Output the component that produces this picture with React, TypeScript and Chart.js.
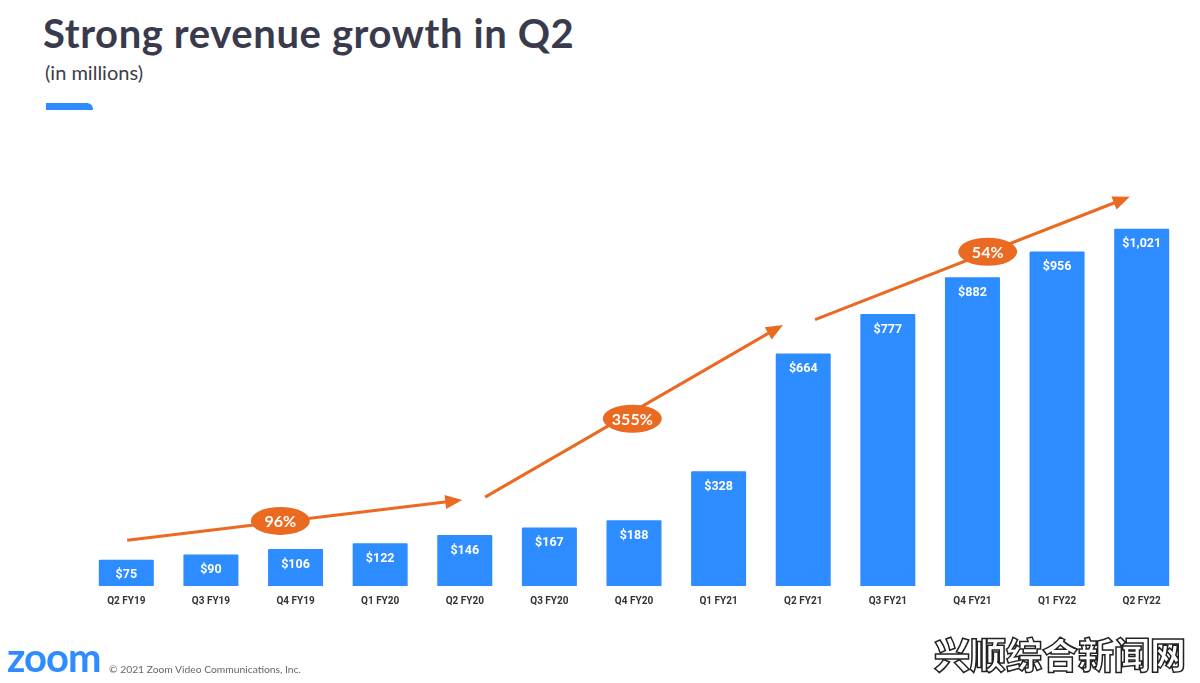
import React, { useEffect, useRef } from "react";
import { Chart, registerables } from "chart.js";

Chart.register(...registerables);

const categories = [
  "Q2 FY19", "Q3 FY19", "Q4 FY19", "Q1 FY20", "Q2 FY20", "Q3 FY20", "Q4 FY20",
  "Q1 FY21", "Q2 FY21", "Q3 FY21", "Q4 FY21", "Q1 FY22", "Q2 FY22",
];
const revenue = [75, 90, 106, 122, 146, 167, 188, 328, 664, 777, 882, 956, 1021];
const valueLabels = ["$75", "$90", "$106", "$122", "$146", "$167", "$188", "$328", "$664", "$777", "$882", "$956", "$1,021"];

// growth arrows in data space
const arrowStartIdx = [0.01, 4.24, 8.14];
const arrowStartVal = [131, 254, 761];
const arrowEndIdx = [3.97, 7.76, 11.86];
const arrowEndVal = [246, 746, 1112];
const growthLabels = ["96%", "355%", "54%"];
const growthLabelIdx = [1.82, 5.98, 10.18];
const growthLabelVal = [186, 478, 955];

const BLUE = "#2D8CFF";
const ORANGE = "#EB6A22";

const annotPlugin = {
  id: "annot",
  afterDatasetsDraw(chart: any) {
    const ctx = chart.ctx;
    const x = chart.scales.x;
    const y = chart.scales.y;
    const meta = chart.getDatasetMeta(0);
    ctx.save();
    ctx.fillStyle = "#ffffff";
    ctx.font = "bold 12.5px Roboto";
    ctx.textAlign = "center";
    ctx.textBaseline = "middle";
    meta.data.forEach((bar: any, i: number) => {
      ctx.fillText(valueLabels[i], bar.x, bar.y + 15.5);
    });
    ctx.restore();

    ctx.save();
    ctx.strokeStyle = ORANGE;
    ctx.fillStyle = ORANGE;
    ctx.lineWidth = 3;
    for (let i = 0; i < arrowStartIdx.length; i++) {
      const x1 = x.getPixelForValue(arrowStartIdx[i]);
      const y1 = y.getPixelForValue(arrowStartVal[i]);
      const x2 = x.getPixelForValue(arrowEndIdx[i]);
      const y2 = y.getPixelForValue(arrowEndVal[i]);
      const ang = Math.atan2(y2 - y1, x2 - x1);
      const headLen = 17;
      const headW = 7;
      const bx = x2 - headLen * Math.cos(ang);
      const by = y2 - headLen * Math.sin(ang);
      ctx.beginPath();
      ctx.moveTo(x1, y1);
      ctx.lineTo(bx + 2 * Math.cos(ang), by + 2 * Math.sin(ang));
      ctx.stroke();
      ctx.beginPath();
      ctx.moveTo(x2, y2);
      ctx.lineTo(bx - headW * Math.sin(ang), by + headW * Math.cos(ang));
      ctx.lineTo(bx + headW * Math.sin(ang), by - headW * Math.cos(ang));
      ctx.closePath();
      ctx.fill();
    }
    ctx.font = "bold 16px Lato";
    ctx.textAlign = "center";
    ctx.textBaseline = "middle";
    for (let i = 0; i < growthLabels.length; i++) {
      const cx = x.getPixelForValue(growthLabelIdx[i]);
      const cy = y.getPixelForValue(growthLabelVal[i]);
      ctx.fillStyle = ORANGE;
      ctx.beginPath();
      ctx.ellipse(cx, cy, 29.5, 14, 0, 0, Math.PI * 2);
      ctx.fill();
      ctx.fillStyle = "#ffffff";
      ctx.fillText(growthLabels[i], cx, cy + 1);
    }
    ctx.restore();
  },
};

export default function App() {
  const ref = useRef<HTMLCanvasElement>(null);
  useEffect(() => {
    document.body.style.margin = "0";
    const chart = new Chart(ref.current!, {
      type: "bar",
      data: {
        labels: categories,
        datasets: [
          {
            data: revenue,
            backgroundColor: BLUE,
            borderWidth: 0,
            barPercentage: 0.65,
            categoryPercentage: 1,
            borderRadius: 1,
          },
        ],
      },
      options: {
        responsive: false,
        animation: false,
        layout: { padding: { top: 166, bottom: 57, left: 84, right: 16 } },
        plugins: { legend: { display: false }, tooltip: { enabled: false } },
        scales: {
          x: {
            grid: { display: false, drawTicks: false },
            border: { display: false },
            ticks: {
              color: "#333333",
              font: { family: "Roboto", weight: "bold", size: 10 },
              padding: 9,
              maxRotation: 0,
              autoSkip: false,
            },
            afterFit: (scale: any) => {
              scale.height = 40;
            },
          },
          y: { display: false, min: 0, max: 1200 },
        },
      },
      plugins: [annotPlugin],
    });
    return () => chart.destroy();
  }, []);

  return (
    <div style={{ position: "relative", width: 1200, height: 683, background: "#fff", overflow: "hidden" }}>
      <div
        style={{
          position: "absolute", left: 43, top: 9, fontFamily: "Lato", fontWeight: 700,
          fontSize: 40, color: "#393b4c", letterSpacing: 0.6, whiteSpace: "nowrap",
        }}
      >
        Strong revenue growth in Q2
      </div>
      <div
        style={{
          position: "absolute", left: 45, top: 60, fontFamily: "Lato", fontSize: 20,
          color: "#3c3c48", whiteSpace: "nowrap",
        }}
      >
        (in millions)
      </div>
      <div
        style={{
          position: "absolute", left: 46, top: 103, width: 47, height: 7, background: BLUE,
          borderTopRightRadius: 6,
        }}
      />
      <canvas ref={ref} width={1200} height={683} style={{ position: "absolute", left: 0, top: 0 }} />
      <div
        style={{
          position: "absolute", left: 7, top: 637, fontFamily: "Lato", fontWeight: 700,
          fontSize: 40, color: BLUE, letterSpacing: -1, whiteSpace: "nowrap", lineHeight: "40px",
        }}
      >
        zoom
      </div>
      <div
        style={{
          position: "absolute", left: 109, top: 663, fontFamily: "Lato", fontSize: 10.3,
          color: "#666", whiteSpace: "nowrap",
        }}
      >
        © 2021 Zoom Video Communications, Inc.
      </div>
      <div
        style={{
          position: "absolute", left: 934, top: 631, fontFamily: "Noto Sans CJK SC", fontWeight: 900,
          fontSize: 36, color: "#fff", WebkitTextStroke: "1.5px #222", whiteSpace: "nowrap",
          letterSpacing: 0, lineHeight: "44px",
        }}
      >
        兴顺综合新闻网
      </div>
    </div>
  );
}
